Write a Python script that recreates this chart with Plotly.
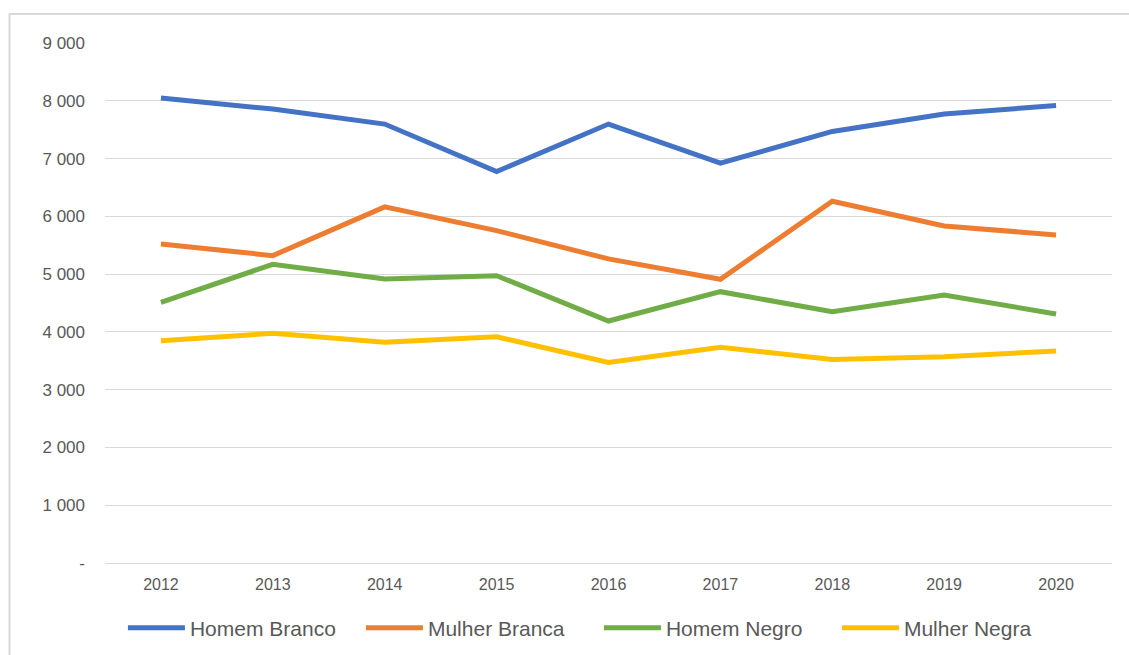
import plotly.graph_objects as go

years = ["2012", "2013", "2014", "2015", "2016", "2017", "2018", "2019", "2020"]

homem_branco = [8047, 7856, 7597, 6775, 7597, 6921, 7469, 7770, 7919]
mulher_branca = [5523, 5320, 6164, 5753, 5263, 4910, 6262, 5834, 5678]
homem_negro = [4512, 5170, 4916, 4973, 4188, 4696, 4349, 4638, 4309]
mulher_negra = [3847, 3975, 3819, 3916, 3472, 3732, 3524, 3570, 3668]

y_tickvals = [0, 1000, 2000, 3000, 4000, 5000, 6000, 7000, 8000, 9000]
y_ticktext = ["-", "1 000", "2 000", "3 000", "4 000", "5 000", "6 000", "7 000", "8 000", "9 000"]

series = [
    ("Homem Branco", homem_branco, "#4472C4"),
    ("Mulher Branca", mulher_branca, "#ED7D31"),
    ("Homem Negro", homem_negro, "#70AD47"),
    ("Mulher Negra", mulher_negra, "#FFC000"),
]

FONT = "Liberation Sans, Arial, sans-serif"
GRID = "#d9d9d9"
TEXT = "#595959"

fig = go.Figure()
for name, vals, color in series:
    fig.add_trace(go.Scatter(
        x=years, y=vals, name=name, mode="lines",
        line=dict(color=color, width=5),
    ))

fig.update_layout(
    width=1129, height=655,
    margin=dict(l=105, r=17, t=43, b=92),
    paper_bgcolor="white", plot_bgcolor="white",
    font=dict(family=FONT, color=TEXT),
    showlegend=True,
    legend=dict(
        orientation="h", x=0.4905, xanchor="center",
        yref="container", y=0.041, yanchor="middle",
        font=dict(size=21, color=TEXT), itemwidth=57,
        entrywidth=166, entrywidthmode="pixels",
    ),
    xaxis=dict(
        type="category", range=[-0.5, 8.5], showgrid=False,
        showline=False, ticks="", tickfont=dict(size=16, color=TEXT),
        ticklabelstandoff=10, automargin=False,
    ),
    yaxis=dict(
        range=[0, 9000], tickvals=y_tickvals, ticktext=y_ticktext,
        showgrid=True, gridcolor=GRID, gridwidth=1.3,
        zeroline=True, zerolinecolor=GRID, zerolinewidth=1.3,
        showline=False, ticks="", tickfont=dict(size=17, color=TEXT),
        ticklabelstandoff=19, automargin=False,
    ),
    shapes=[dict(
        type="rect", xref="paper", yref="paper",
        x0=-0.0948, x1=1.03, y0=-0.2, y1=1.0558,
        line=dict(color=GRID, width=2), fillcolor="rgba(0,0,0,0)",
        layer="below",
    )],
)

# drop the default page margin so the figure sits at the window origin
fig.write_html(
    "out.html",
    config={"displayModeBar": False},
    post_script="document.body.style.margin='0';",
)
